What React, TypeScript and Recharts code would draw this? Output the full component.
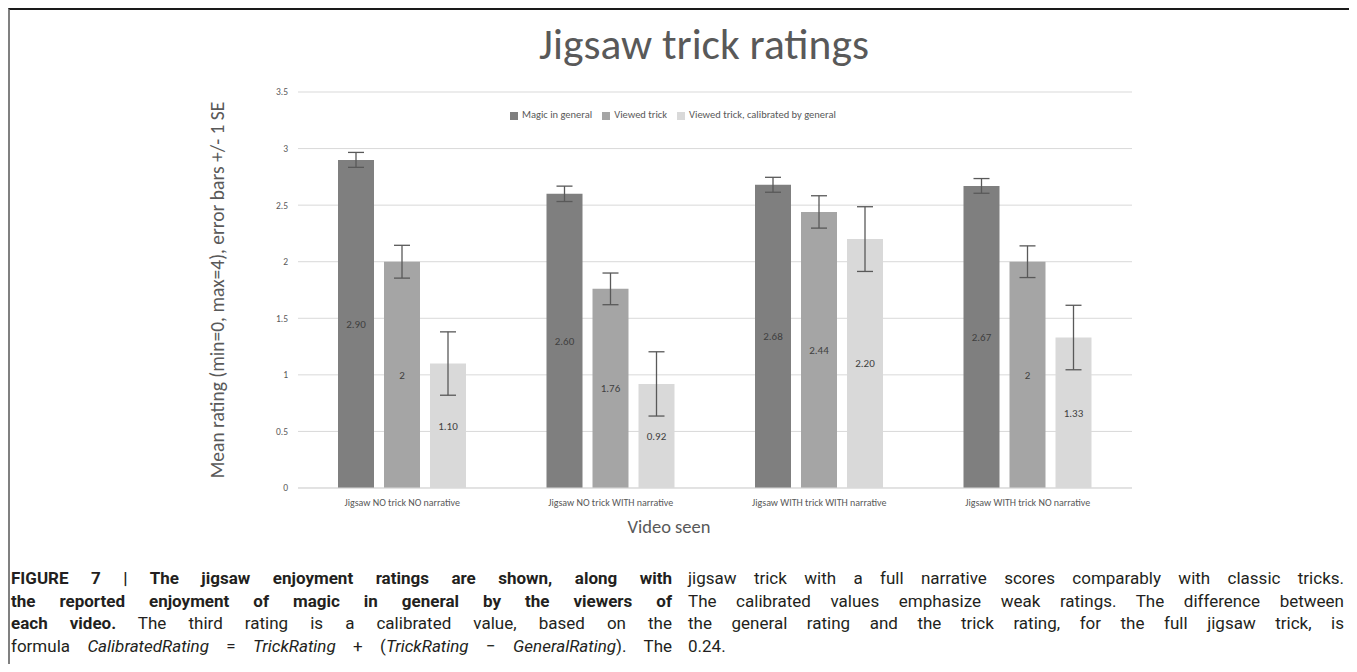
import React from 'react';
import { BarChart, Bar, XAxis, YAxis, CartesianGrid, Legend, ErrorBar, LabelList } from 'recharts';

const categories = [
  'Jigsaw NO trick NO narrative',
  'Jigsaw NO trick WITH narrative',
  'Jigsaw WITH trick WITH narrative',
  'Jigsaw WITH trick NO narrative',
];
const magicGeneral = [2.9, 2.6, 2.68, 2.67];
const viewedTrick = [2.0, 1.76, 2.44, 2.0];
const calibrated = [1.1, 0.92, 2.2, 1.33];
const magicGeneralSE = [0.066, 0.068, 0.066, 0.065];
const viewedTrickSE = [0.145, 0.14, 0.143, 0.14];
const calibratedSE = [0.28, 0.284, 0.286, 0.285];
const magicGeneralLabels = ['2.90', '2.60', '2.68', '2.67'];
const viewedTrickLabels = ['2', '1.76', '2.44', '2'];
const calibratedLabels = ['1.10', '0.92', '2.20', '1.33'];
const seriesNames = ['Magic in general', 'Viewed trick', 'Viewed trick, calibrated by general'];
const yTicks = [0, 0.5, 1, 1.5, 2, 2.5, 3, 3.5];

const data = categories.map((c, i) => ({
  name: c,
  a: magicGeneral[i],
  b: viewedTrick[i],
  c: calibrated[i],
  ea: magicGeneralSE[i],
  eb: viewedTrickSE[i],
  ec: calibratedSE[i],
  la: magicGeneralLabels[i],
  lb: viewedTrickLabels[i],
  lc: calibratedLabels[i],
}));

const chartFont = "Carlito, Lato, 'Open Sans', sans-serif";
const capFont = "Roboto, 'Liberation Sans', Arial, sans-serif";
const textGrey = '#595959';

const lineStyle = (last: boolean): React.CSSProperties => ({
  textAlign: 'justify',
  textAlignLast: last ? 'left' : 'justify',
  whiteSpace: 'nowrap',
  height: 22.5,
  lineHeight: '22.5px',
});

export default function App() {
  return (
    <div
      style={{
        position: 'relative',
        width: 1348,
        height: 656,
        boxSizing: 'border-box',
        borderTop: '2px solid #1a1a1a',
        borderLeft: '2px solid #808080',
        borderRight: '2px solid #1a1a1a',
        overflow: 'hidden',
        background: '#fff',
      }}
    >
      <style>{'html,body{overflow:hidden;}'}</style>
      <div
        style={{
          position: 'absolute',
          left: 394,
          top: 10,
          width: 600,
          textAlign: 'center',
          fontFamily: chartFont,
          fontSize: 43.5,
          fontWeight: 300,
          lineHeight: '50px',
          color: textGrey,
        }}
      >
        Jigsaw trick ratings
      </div>
      <div style={{ position: 'absolute', left: 0, top: 0 }}>
        <BarChart
          width={1344}
          height={540}
          data={data}
          margin={{ top: 82, right: 222, bottom: 17, left: 188 }}
          barSize={36}
          barGap={10}
        >
          <CartesianGrid vertical={false} stroke="#d9d9d9" strokeWidth={1} />
          <XAxis
            dataKey="name"
            height={45}
            tickLine={false}
            axisLine={{ stroke: '#d9d9d9' }}
            tickMargin={5}
            tick={{ fill: textGrey, fontSize: 10, fontFamily: chartFont }}
            interval={0}
            label={{
              value: 'Video seen',
              position: 'insideBottom',
              offset: 0,
              dx: -46,
              style: { fill: textGrey, fontSize: 18.5, fontFamily: chartFont },
            }}
          />
          <YAxis
            width={100}
            domain={[0, 3.5]}
            ticks={yTicks}
            tickLine={false}
            axisLine={false}
            tickMargin={4}
            tick={{ fill: textGrey, fontSize: 9.5, fontFamily: chartFont }}
            label={{
              value: 'Mean rating (min=0, max=4), error bars +/- 1 SE',
              angle: -90,
              position: 'center',
              dx: -31,
              style: { fill: textGrey, fontSize: 19.5, fontFamily: chartFont, textAnchor: 'middle' },
            }}
          />
          <Legend
            verticalAlign="middle"
            align="center"
            iconType="square"
            iconSize={8}
            formatter={(v: string) => <span style={{ color: textGrey }}>{v}</span>}
            wrapperStyle={{ left: 500, top: 98, width: 'auto', fontSize: 10.5, fontFamily: chartFont, lineHeight: '14px' }}
          />
          <Bar dataKey="a" name={seriesNames[0]} fill="#7f7f7f" isAnimationActive={false}>
            <ErrorBar dataKey="ea" width={8} stroke="#595959" strokeWidth={1.3} direction="y" />
            <LabelList dataKey="la" position="center" fill="#404040" fontSize={11} fontFamily={chartFont} />
          </Bar>
          <Bar dataKey="b" name={seriesNames[1]} fill="#a5a5a5" isAnimationActive={false}>
            <ErrorBar dataKey="eb" width={8} stroke="#595959" strokeWidth={1.3} direction="y" />
            <LabelList dataKey="lb" position="center" fill="#404040" fontSize={11} fontFamily={chartFont} />
          </Bar>
          <Bar dataKey="c" name={seriesNames[2]} fill="#d9d9d9" isAnimationActive={false}>
            <ErrorBar dataKey="ec" width={8} stroke="#595959" strokeWidth={1.3} direction="y" />
            <LabelList dataKey="lc" position="center" fill="#404040" fontSize={11} fontFamily={chartFont} />
          </Bar>
        </BarChart>
      </div>
      <div
        style={{
          position: 'absolute',
          left: 1,
          top: 557,
          width: 661,
          fontFamily: capFont,
          fontSize: 17,
          color: '#231f20',
        }}
      >
        <div style={{ ...lineStyle(false), fontWeight: 'bold' }}>
          FIGURE 7 | The jigsaw enjoyment ratings are shown, along with
        </div>
        <div style={{ ...lineStyle(false), fontWeight: 'bold' }}>
          the reported enjoyment of magic in general by the viewers of
        </div>
        <div style={lineStyle(false)}>
          <b>each video.</b> The third rating is a calibrated value, based on the
        </div>
        <div style={lineStyle(false)}>
          formula <i>CalibratedRating</i> = <i>TrickRating</i> + (<i>TrickRating</i> − <i>GeneralRating</i>). The
        </div>
      </div>
      <div
        style={{
          position: 'absolute',
          left: 678,
          top: 557,
          width: 656,
          fontFamily: capFont,
          fontSize: 17,
          color: '#231f20',
        }}
      >
        <div style={lineStyle(false)}>jigsaw trick with a full narrative scores comparably with classic tricks.</div>
        <div style={lineStyle(false)}>The calibrated values emphasize weak ratings. The difference between</div>
        <div style={lineStyle(false)}>the general rating and the trick rating, for the full jigsaw trick, is</div>
        <div style={lineStyle(true)}>0.24.</div>
      </div>
    </div>
  );
}
